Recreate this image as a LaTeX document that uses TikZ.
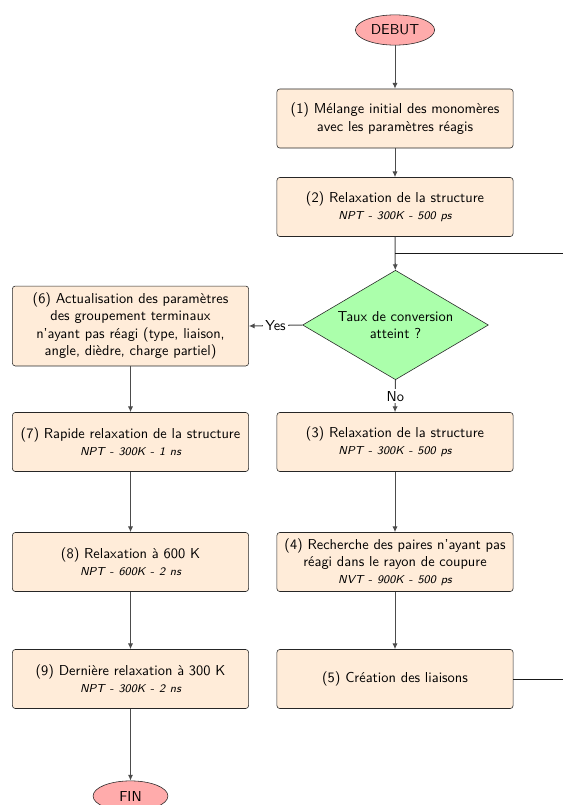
\documentclass[tikz,border=0pt]{standalone}
\usepackage{fontspec}
\usetikzlibrary{shapes.geometric,arrows.meta}
\begin{document}
\begin{tikzpicture}[x=0.6944pt,y=-0.6944pt,
  font=\sffamily,
  stepbox/.style={draw=black!85, fill=orange!15, rounded corners=2pt,
    minimum width=164pt, minimum height=41pt, text width=157pt,
    inner xsep=3.5pt, inner ysep=3pt, align=center},
  decision/.style={diamond, draw=black!85, fill=green!33, aspect=1.7,
    minimum width=129pt, minimum height=76pt, inner sep=0pt, align=center},
  terminal/.style={ellipse, draw=black!85, fill=red!33,
    minimum width=55pt, minimum height=21pt, inner sep=0pt},
  arr/.style={draw=black!70, line width=0.7pt, -{Latex[length=4pt,width=3.6pt]}},
  plain/.style={draw=black!90, line width=0.6pt},
  lbl/.style={fill=white, inner sep=1.5pt, font=\sffamily}
]
\clip (0,0) rectangle (563,805);
\fill[white] (0,0) rectangle (563,805);

\node[terminal] (debut) at (395,30) {DEBUT};
\node[stepbox] (b1) at (395,118.5) {(1) Mélange initial des monomères\\avec les paramètres réagis};
\node[stepbox] (b2) at (395,207) {(2) Relaxation de la structure\\{\footnotesize\itshape NPT - 300K - 500 ps}};
\node[decision] (dec) at (395.5,325) {Taux de conversion\\atteint ?};
\node[stepbox] (b3) at (395,442) {(3) Relaxation de la structure\\{\footnotesize\itshape NPT - 300K - 500 ps}};
\node[stepbox] (b4) at (395,562) {(4) Recherche des paires n'ayant pas\\réagi dans le rayon de coupure\\{\footnotesize\itshape NVT - 900K - 500 ps}};
\node[stepbox] (b5) at (395,679) {(5) Création des liaisons};

\node[stepbox, minimum height=55.5pt] (b6) at (130.5,326) {(6) Actualisation des paramètres\\des groupement terminaux\\n'ayant pas réagi (type, liaison,\\angle, dièdre, charge partiel)};
\node[stepbox] (b7) at (130.5,442) {(7) Rapide relaxation de la structure\\{\footnotesize\itshape NPT - 300K - 1 ns}};
\node[stepbox] (b8) at (130.5,562) {(8) Relaxation à 600 K\\{\footnotesize\itshape NPT - 600K - 2 ns}};
\node[stepbox] (b9) at (130.5,679) {(9) Dernière relaxation à 300 K\\{\footnotesize\itshape NPT - 300K - 2 ns}};
\node[terminal, minimum width=52pt] (fin) at (130.5,796) {FIN};

\coordinate (join) at (395,253);
\coordinate (rr) at (640,253);

\draw[arr] (debut) -- (b1);
\draw[arr] (b1) -- (b2);
\draw[arr] (b2) -- (dec);
\draw[arr] (dec.west) -- node[lbl] {Yes} (b6.east);
\draw[arr] (dec.south) -- node[lbl] {No} (b3.north);
\draw[arr] (b3) -- (b4);
\draw[arr] (b4) -- (b5);
\draw[arr] (b6) -- (b7);
\draw[arr] (b7) -- (b8);
\draw[arr] (b8) -- (b9);
\draw[arr] (b9) -- (fin);
\draw[plain] (b5.east) -| (rr) -- (join);
\end{tikzpicture}
\end{document}
